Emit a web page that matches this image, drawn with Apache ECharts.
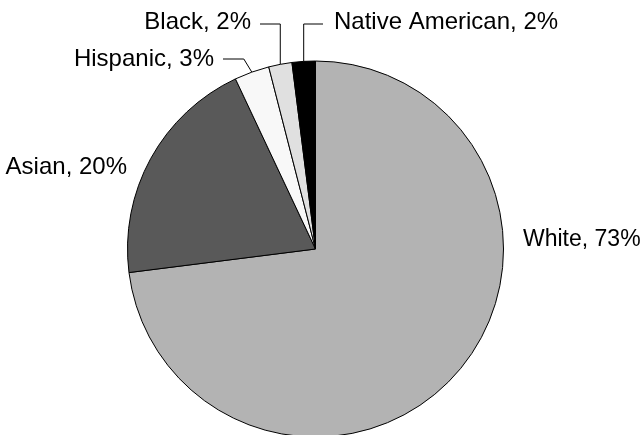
<!DOCTYPE html>
<html>
<head>
<meta charset="utf-8">
<script src="https://cdn.jsdelivr.net/npm/echarts@6/dist/echarts.min.js"></script>
<style>
html,body{margin:0;padding:0;background:#fff;}
#chart{width:644px;height:435px;}
</style>
</head>
<body>
<div id="chart"></div>
<script>
const categories = ['White', 'Asian', 'Hispanic', 'Black', 'Native American'];
const values = [73, 20, 3, 2, 2];
const colors = ['#b3b3b3', '#595959', '#f8f8f8', '#e0e0e0', '#000000'];

const chart = echarts.init(document.getElementById('chart'), null, {renderer: 'canvas'});

const cx = 315.5, cy = 249, R = 188;

// label placement (layout only)
const labelPos = {
  'White':           {x: 523, y: 240, align: 'left',  line: false, fs: 23},
  'Asian':           {x: 127, y: 167, align: 'right', line: false},
  'Hispanic':        {x: 214, y: 59,  align: 'right', line: true, ly: 59, lx: 223, diag: 8},
  'Black':           {x: 251, y: 22,  align: 'right', line: true, ly: 24, lx: 260},
  'Native American': {x: 334, y: 22,  align: 'left',  line: true, ly: 24, lx: 323}
};

chart.setOption({
  animation: false,
  backgroundColor: '#ffffff',
  series: [{
    type: 'pie',
    center: [cx, cy],
    radius: [0, R],
    startAngle: 90,
    clockwise: true,
    avoidLabelOverlap: false,
    data: categories.map((c, i) => ({
      name: c,
      value: values[i],
      itemStyle: {color: colors[i]},
      label: labelPos[c].fs ? {fontSize: labelPos[c].fs} : {},
      labelLine: {show: labelPos[c].line}
    })),
    itemStyle: {borderColor: '#000', borderWidth: 1},
    emphasis: {disabled: true},
    label: {
      show: true,
      position: 'outside',
      formatter: '{b}, {c}%',
      fontFamily: 'Liberation Sans, Arial, Helvetica, sans-serif',
      fontSize: 24,
      color: '#000'
    },
    labelLine: {
      show: true,
      length: 20,
      length2: 20,
      lineStyle: {color: '#000', width: 1}
    },
    labelLayout: function (params) {
      const name = categories[params.dataIndex];
      const p = labelPos[name];
      const res = {x: p.x, y: p.y, align: p.align, verticalAlign: 'middle'};
      if (p.line && params.labelLinePoints) {
        const p0 = params.labelLinePoints[0];
        const bendX = p.diag ? p0[0] - p.diag : p0[0];
        res.labelLinePoints = [[p0[0], p0[1]], [bendX, p.ly], [p.lx, p.ly]];
      }
      return res;
    }
  }]
});
</script>
</body>
</html>
